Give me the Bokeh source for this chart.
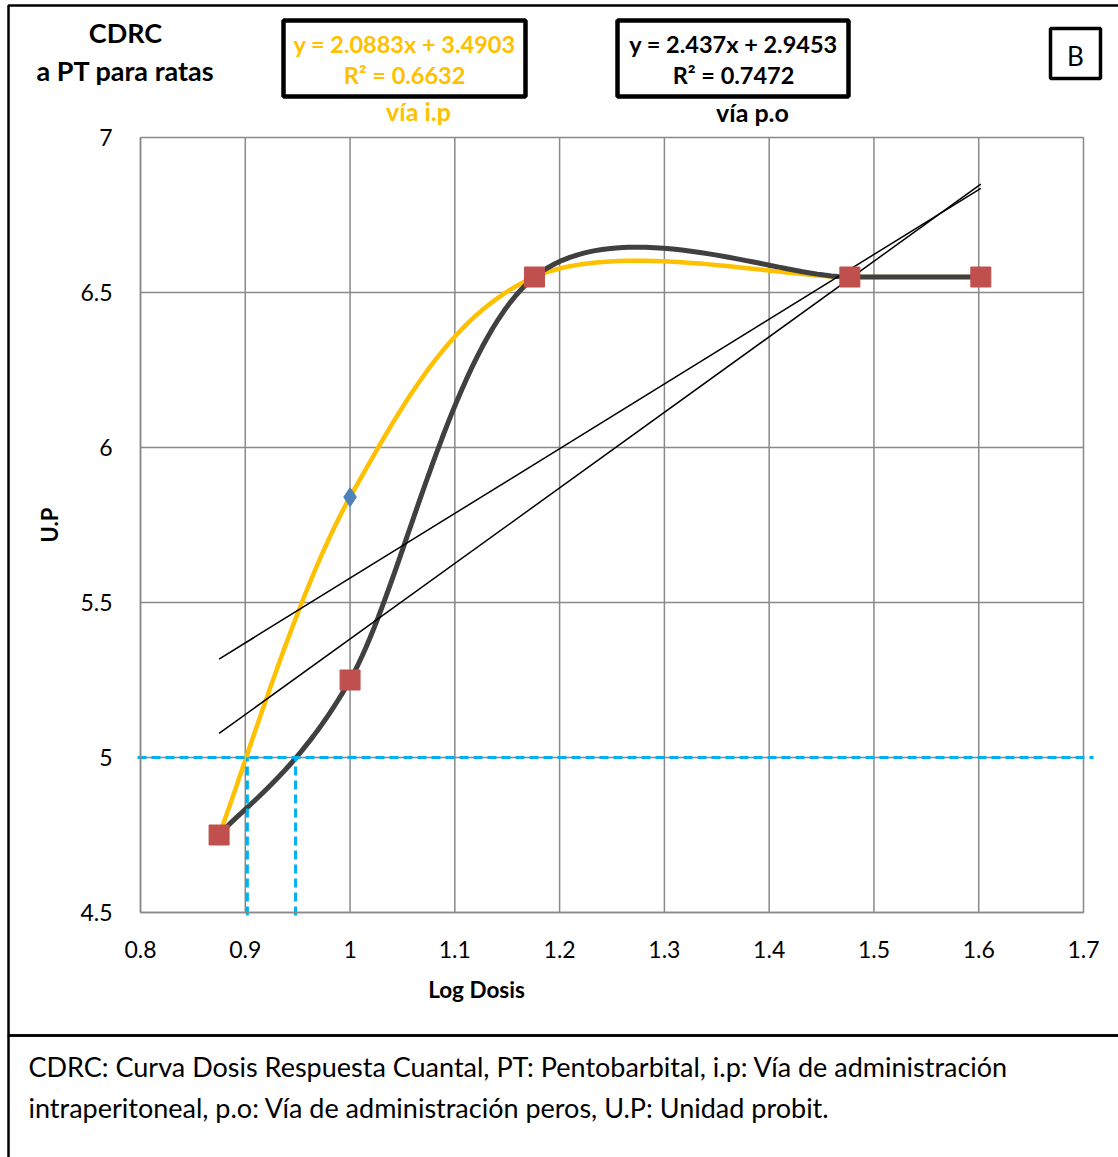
import numpy as np
from bokeh.plotting import figure
from bokeh.models import Label, BoxAnnotation, FixedTicker, Range1d, LinearAxis
from bokeh.embed import file_html
from bokeh.resources import INLINE

# ---------------- data ----------------
log_dose = [0.875, 1.0, 1.176, 1.477, 1.602]
up_ip = [4.75, 5.84, 6.55, 6.55, 6.55]      # vía i.p
up_po = [4.75, 5.25, 6.55, 6.55, 6.55]      # vía p.o
fit_ip = [2.0883, 3.4903]
fit_po = [2.437, 2.9453]
r2_ip = 0.6632
r2_po = 0.7472
probit_50 = 5.0
ed50_x = [0.902, 0.948]
x_ticks = [0.8, 0.9, 1.0, 1.1, 1.2, 1.3, 1.4, 1.5, 1.6, 1.7]
x_tick_labels = ["0.8", "0.9", "1", "1.1", "1.2", "1.3", "1.4", "1.5", "1.6", "1.7"]
y_ticks = [4.5, 5.0, 5.5, 6.0, 6.5, 7.0]
y_tick_labels = ["4.5", "5", "5.5", "6", "6.5", "7"]

FONT = "Lato"
W, H = 1118, 1157
# plot-area placement on the page (pixels)
PL, PR, PT, PB = 140, 1083, 137, 912
X0, X1 = x_ticks[0], x_ticks[-1]
Y0, Y1 = y_ticks[0], y_ticks[-1]
kx = (X1 - X0) / (PR - PL)
ky = (Y1 - Y0) / (PB - PT)


def smooth(xs, ys, n=40):
    P = np.column_stack([xs, ys]).astype(float)
    m = len(P)
    out = []
    t = np.linspace(0, 1, n)[:, None]
    for i in range(m - 1):
        p0 = P[i - 1] if i > 0 else P[i]
        p1, p2 = P[i], P[i + 1]
        p3 = P[i + 2] if i + 2 < m else P[i + 1]
        c1 = p1 + (p2 - p0) / 6
        c2 = p2 - (p3 - p1) / 6
        seg = (1 - t) ** 3 * p1 + 3 * (1 - t) ** 2 * t * c1 + 3 * (1 - t) * t ** 2 * c2 + t ** 3 * p2
        out.append(seg if i == 0 else seg[1:])
    return np.vstack(out)


p = figure(width=W, height=H,
           x_range=Range1d(X0 - PL * kx, X1 + (W - PR) * kx),
           y_range=Range1d(Y0 - (H - PB) * ky, Y1 + PT * ky),
           output_backend="svg", toolbar_location=None,
           x_axis_location=None, y_axis_location=None,
           min_border=0)
p.background_fill_color = "white"
p.border_fill_color = "white"
p.outline_line_color = None
p.grid.visible = False

GRID = "#898989"
# grid lines drawn at the tick positions, limited to the plot area
p.segment(x0=x_ticks, y0=[Y0] * len(x_ticks), x1=x_ticks, y1=[Y1] * len(x_ticks),
          line_color=GRID, line_width=1.5)
p.segment(x0=[X0] * len(y_ticks), y0=y_ticks, x1=[X1] * len(y_ticks), y1=y_ticks,
          line_color=GRID, line_width=1.5)

# axes fixed at the plot-area edges
xax = LinearAxis(fixed_location=Y0, bounds=(X0, X1))
yax = LinearAxis(fixed_location=X0, bounds=(Y0, Y1))
for ax, ticks, labels in ((xax, x_ticks, x_tick_labels), (yax, y_ticks, y_tick_labels)):
    ax.ticker = FixedTicker(ticks=ticks)
    ax.major_label_overrides = {t: s for t, s in zip(ticks, labels)}
    ax.major_tick_line_color = None
    ax.minor_tick_line_color = None
    ax.axis_line_color = GRID
    ax.axis_line_width = 1.5
    ax.major_label_text_font = FONT
    ax.major_label_text_font_size = "23px"
    ax.major_label_text_color = "black"
    ax.axis_label_text_font = FONT
    ax.axis_label_text_font_size = "22px"
    ax.axis_label_text_font_style = "bold"
    ax.axis_label_text_color = "black"
xax.major_label_standoff = 22
yax.major_label_standoff = 22
yax.axis_label = "U.P"
yax.axis_label_standoff = 14
p.add_layout(xax, "below")
p.add_layout(yax, "left")

# smoothed curves
cip = smooth(log_dose, up_ip)
cpo = smooth(log_dose, up_po)
p.line(cip[:, 0], cip[:, 1], line_color="#FFC000", line_width=4.5)
p.line(cpo[:, 0], cpo[:, 1], line_color="#404040", line_width=5)

# trendlines
xs = np.array([min(log_dose), max(log_dose)])
p.line(xs, fit_ip[0] * xs + fit_ip[1], line_color="black", line_width=1.5)
p.line(xs, fit_po[0] * xs + fit_po[1], line_color="black", line_width=1.5)

# markers
p.scatter(log_dose, up_ip, marker="diamond", size=19, fill_color="#4F81BD", line_color="#4F81BD")
p.scatter(log_dose, up_po, marker="square", size=20, fill_color="#C0504D", line_color="#C0504D")

# ED50 dashed guides
p.segment(x0=[X0 - 3 * kx], y0=[probit_50], x1=[X1 + 10 * kx], y1=[probit_50],
          line_color="#00B0F0", line_width=3, line_dash="9 5")
p.segment(x0=ed50_x, y0=[Y0 - 3 * ky] * len(ed50_x), x1=ed50_x, y1=[probit_50] * len(ed50_x),
          line_color="#00B0F0", line_width=3, line_dash="9 5")


def box(l, t, r, b, lw):
    p.add_layout(BoxAnnotation(left=l, right=r, top=H - t, bottom=H - b,
                               left_units="screen", right_units="screen",
                               top_units="screen", bottom_units="screen",
                               fill_alpha=0, line_color="black", line_alpha=1.0,
                               line_width=lw))

# outer frame lines
box(8, 5, 1140, 1035, 2.5)
box(8, 1035, 1140, 1180, 2.5)
# equation boxes
box(283, 20, 525, 96, 4.5)
box(617, 20, 848, 96, 4.5)
box(1050, 28, 1100, 78, 3.5)


def lab(px, py, text, size, color="black", bold=True, align="center"):
    p.add_layout(Label(x=px, y=H - py, x_units="screen", y_units="screen", text=text,
                       text_font=FONT, text_font_size=f"{size}px", text_color=color,
                       text_font_style="bold" if bold else "normal",
                       text_align=align, text_baseline="middle"))


def fmt_eq(f):
    return f"y = {f[0]:g}x + {f[1]:g}"

lab(125, 32, "CDRC", 27)
lab(125, 70, "a PT para ratas", 27)
lab(404, 43, fmt_eq(fit_ip), 23.5, "#FFC000")
lab(404, 74, f"R² = {r2_ip}", 23.5, "#FFC000")
lab(418, 110, "vía i.p", 25, "#FFC000")
lab(733, 43, fmt_eq(fit_po), 23.5)
lab(733, 74, f"R² = {r2_po}", 23.5)
lab(752, 111, "vía p.o", 25)
lab(1075, 55, "B", 26, bold=False)
lab(476, 989, "Log Dosis", 22.5)
lab(28, 1066, "CDRC: Curva Dosis Respuesta Cuantal, PT: Pentobarbital, i.p: Vía de administración",
    27, bold=False, align="left")
lab(28, 1107, "intraperitoneal, p.o: Vía de administración peros, U.P: Unidad probit.",
    27, bold=False, align="left")

open("out.html", "w").write(file_html(p, INLINE))
